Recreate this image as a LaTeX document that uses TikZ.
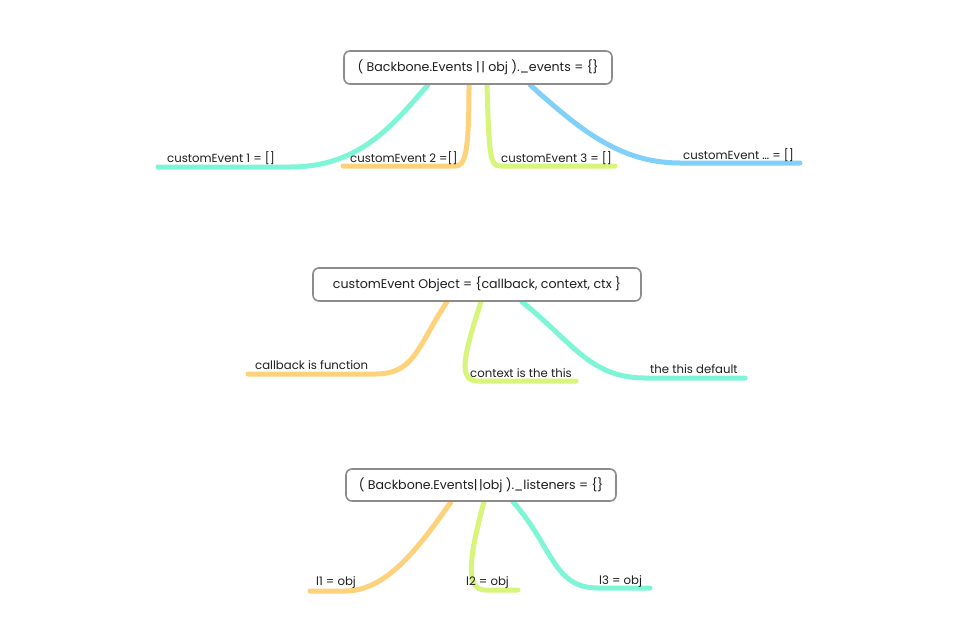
\documentclass[tikz,border=0pt]{standalone}
\usepackage{fontspec}
\setmainfont{Poppins}
\usetikzlibrary{positioning,backgrounds}
\definecolor{aqua}{RGB}{126,245,214}
\definecolor{peach}{RGB}{253,210,122}
\definecolor{lime}{RGB}{214,245,122}
\definecolor{sky}{RGB}{128,208,250}
\definecolor{frame}{RGB}{140,140,140}
\definecolor{ink}{RGB}{30,30,30}

\begin{document}
\begin{tikzpicture}[x=1pt,y=-1pt,
  topic/.style={draw=frame,line width=1.6pt,rounded corners=6pt,fill=white,
    minimum height=33pt,font=\fontsize{12.6}{14}\selectfont,text=ink},
  leaf/.style={anchor=base west,inner sep=0pt,font=\fontsize{11.7}{13}\selectfont,text=ink},
  branch/.style={line width=5pt,line cap=round,draw=#1}]
\useasboundingbox (0,0) rectangle (960,640);

% the three topics
\node[topic,minimum width=268pt] (ev) at (478,67.5) {( Backbone.Events |\kern1.5pt| obj ).\_events = \{\}};
\node[topic,minimum width=328pt] (obj) at (477,284.5) {customEvent Object = \{callback, context, ctx \}};
\node[topic,minimum width=270pt,minimum height=32pt] (lis) at (481,485) {( Backbone.Events|\kern1.5pt|obj ).\_listeners = \{\}};

% knees and loose ends of the branches
\coordinate (k1) at (290,167);  \coordinate (e1) at (158,167);
\coordinate (k2) at (455,166);  \coordinate (e2) at (343,166);
\coordinate (k3) at (500,166);  \coordinate (e3) at (615,166);
\coordinate (k4) at (680,163);  \coordinate (e4) at (800,163);
\coordinate (k5) at (375,374);  \coordinate (e5) at (248,374);
\coordinate (k6) at (478,381);  \coordinate (e6) at (576,381);
\coordinate (k7) at (645,378);  \coordinate (e7) at (745,378);
\coordinate (k8) at (345,591);  \coordinate (e8) at (310,591);
\coordinate (k9) at (485,590);  \coordinate (e9) at (518,590);
\coordinate (k10) at (598,588); \coordinate (e10) at (650,588);

% labels
\node[leaf] (c1) at (167,162) {customEvent 1 = []};
\node[leaf] (c2) at (350,162) {customEvent 2 =[]};
\node[leaf] (c3) at (501,162) {customEvent 3 = []};
\node[leaf] (c4) at (683,159) {customEvent \dots\ = []};
\node[leaf] (cb) at (255,369) {callback is function};
\node[leaf] (cx) at (470,377) {context is the this};
\node[leaf] (df) at (650,373) {the this default};
\node[leaf] (l1) at (316,585) {l1 = obj};
\node[leaf] (l2) at (466,585) {l2 = obj};
\node[leaf] (l3) at (599,584) {l3 = obj};

\begin{scope}[on background layer]
  \fill[white] (0,0) rectangle (960,640);
  \draw[branch=aqua] ([xshift=-50pt]ev.south) .. controls +(-35,40) and +(70,0) .. (k1) -- (e1);
  \draw[branch=peach] ([xshift=-9pt]ev.south) .. controls +(0,70) and +(10,0) .. (k2) -- (e2);
  \draw[branch=lime] ([xshift=9pt]ev.south) .. controls +(2,70) and +(-10,0) .. (k3) -- (e3);
  \draw[branch=sky] ([xshift=52pt]ev.south) .. controls +(50,45) and +(-60,0) .. (k4) -- (e4);
  \draw[branch=peach] ([xshift=-30pt]obj.south) .. controls +(-30,45) and +(40,0) .. (k5) -- (e5);
  \draw[branch=lime] ([xshift=4pt]obj.south) .. controls +(-18,55) and +(-20,0) .. (k6) -- (e6);
  \draw[branch=aqua] ([xshift=45pt]obj.south) .. controls +(50,40) and +(-55,0) .. (k7) -- (e7);
  \draw[branch=peach] ([xshift=-30pt]lis.south) .. controls +(-35,50) and +(40,0) .. (k8) -- (e8);
  \draw[branch=lime] ([xshift=3pt]lis.south) .. controls +(-15,55) and +(-20,0) .. (k9) -- (e9);
  \draw[branch=aqua] ([xshift=32pt]lis.south) .. controls +(40,45) and +(-45,0) .. (k10) -- (e10);
\end{scope}
\end{tikzpicture}
\end{document}
